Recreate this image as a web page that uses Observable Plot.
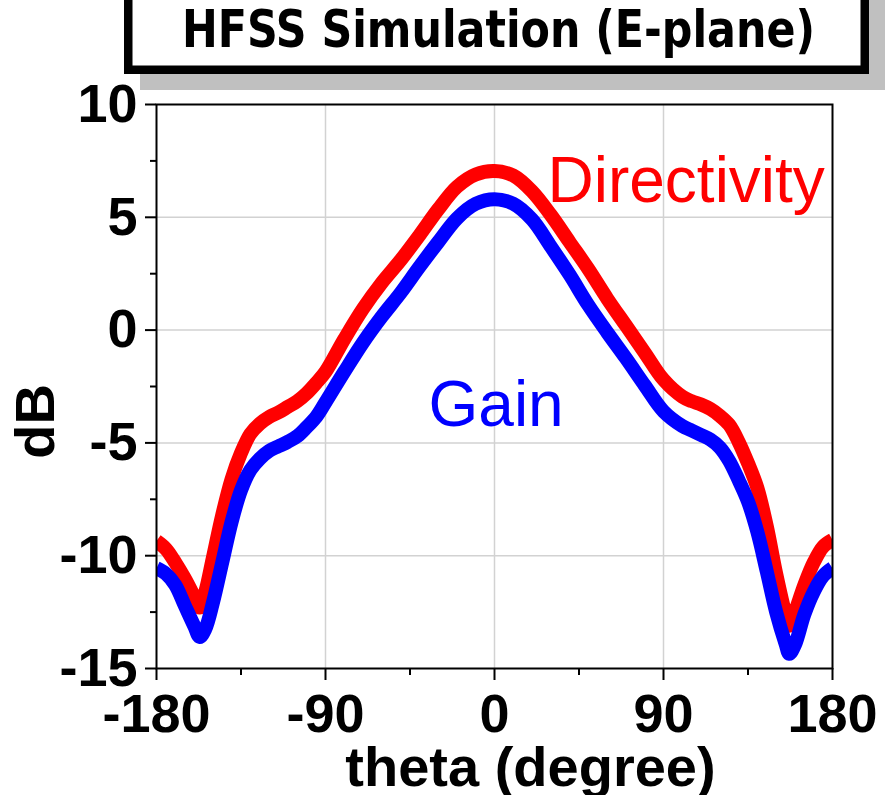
<!DOCTYPE html>
<html>
<head>
<meta charset="utf-8">
<script src="https://cdn.jsdelivr.net/npm/d3@7"></script>
<script src="https://cdn.jsdelivr.net/npm/@observablehq/plot@0.6"></script>
<style>
  html, body { margin: 0; padding: 0; background: #fff; }
  #wrap { position: relative; width: 895px; height: 795px; overflow: hidden; }
  #wrap > svg { position: absolute; left: 0; top: 0; }
</style>
</head>
<body>
<div id="wrap"></div>
<script>
// ---- data ----
const theta = [-180,-175,-170,-165,-160,-157,-154,-150,-145,-140,-135,-130,-125,-120,-115,-110,-105,-100,-95,-90,-80,-70,-60,-50,-40,-30,-20,-10,0,10,20,30,40,50,60,70,80,90,100,105,110,115,120,125,130,135,140,145,150,155,157,160,165,170,175,180];
const directivity = [-9.35,-9.7,-10.3,-11.0,-11.8,-12.3,-11.6,-10.1,-8.2,-6.6,-5.45,-4.6,-4.15,-3.85,-3.65,-3.4,-3.15,-2.8,-2.35,-1.85,-0.4,0.95,2.1,3.1,4.2,5.35,6.35,6.9,7.05,6.85,6.15,5.1,3.9,2.7,1.4,0.2,-1.0,-2.2,-2.95,-3.15,-3.3,-3.5,-3.8,-4.2,-4.95,-5.9,-7.0,-8.7,-10.8,-12.6,-13.1,-12.5,-11.3,-10.3,-9.6,-9.3];
const gain = [-10.55,-10.8,-11.3,-12.2,-13.1,-13.6,-13.25,-12.1,-10.3,-8.5,-7.1,-6.2,-5.7,-5.35,-5.15,-4.95,-4.7,-4.3,-3.85,-3.2,-1.85,-0.55,0.6,1.65,2.8,3.9,4.95,5.6,5.8,5.6,4.9,3.7,2.45,1.1,-0.1,-1.25,-2.45,-3.6,-4.25,-4.45,-4.65,-4.85,-5.2,-5.8,-6.65,-7.6,-8.95,-10.7,-12.5,-13.9,-14.35,-13.95,-12.6,-11.6,-10.9,-10.55];
const seriesNames = ["Directivity", "Gain"];
const seriesColors = ["#ff0000", "#0000ff"];
const xMajorTicks = [-180, -90, 0, 90, 180];
const xMinorTicks = [-135, -45, 45, 135];
const yMajorTicks = [-15, -10, -5, 0, 5, 10];
const yMinorTicks = [-12.5, -7.5, -2.5, 2.5, 7.5];
const xGrid = [-90, 0, 90];
const yGrid = [-10, -5, 0, 5];
const titleText = "HFSS Simulation (E-plane)";
const xLabel = "theta (degree)";
const yLabel = "dB";

const rows = [];
theta.forEach((t, i) => {
  rows.push({theta: t, value: directivity[i], series: seriesNames[0]});
  rows.push({theta: t, value: gain[i], series: seriesNames[1]});
});

const axisFont = "Liberation Sans, Arial, Helvetica, sans-serif";

const chart = Plot.plot({
  width: 895,
  height: 795,
  marginLeft: 156,
  marginRight: 63,
  marginTop: 104,
  marginBottom: 127,
  style: {background: "#fff", fontFamily: axisFont, overflow: "visible"},
  x: {domain: [-180, 180], label: null},
  y: {domain: [-15, 10], label: null},
  color: {domain: seriesNames, range: seriesColors},
  marks: [
    Plot.gridX(xGrid, {stroke: "#d2d2d2", strokeOpacity: 1, strokeWidth: 1.5}),
    Plot.gridY(yGrid, {stroke: "#d2d2d2", strokeOpacity: 1, strokeWidth: 1.5}),
    Plot.line(rows, {x: "theta", y: "value", z: "series", stroke: "series", strokeWidth: 14, curve: "catmull-rom", clip: true, strokeLinecap: "butt"}),
    Plot.frame({stroke: "#000", strokeWidth: 2}),
    Plot.axisX(xMajorTicks, {tickSize: 12, tickPadding: 13, strokeWidth: 2, stroke: "#000", fill: "#000", fontSize: 54, fontWeight: "bold", fontFamily: axisFont, tickFormat: d => String(d)}),
    Plot.axisX(xMinorTicks, {tickSize: 7, strokeWidth: 2, stroke: "#000", fill: "none"}),
    Plot.axisY(yMajorTicks, {tickSize: 11, tickPadding: 8, strokeWidth: 2, stroke: "#000", fill: "#000", fontSize: 54, fontWeight: "bold", fontFamily: axisFont, tickFormat: d => String(d)}),
    Plot.axisY(yMinorTicks, {tickSize: 6, strokeWidth: 2, stroke: "#000", fill: "none"}),
    Plot.text([xLabel], {frameAnchor: "bottom", text: d => d, dx: 36, dy: 100, lineAnchor: "middle", fontSize: 56, fontWeight: "bold", fontFamily: axisFont, fill: "#000"}),
    Plot.text([yLabel], {frameAnchor: "left", text: d => d, dx: -120, dy: 35, rotate: -90, lineAnchor: "middle", textAnchor: "middle", fontSize: 56, fontWeight: "bold", fontFamily: axisFont, fill: "#000"}),
    Plot.text([seriesNames[0]], {frameAnchor: "top-left", text: d => d, dx: 391, dy: 77, textAnchor: "start", lineAnchor: "middle", fontSize: 64, fontFamily: axisFont, fill: seriesColors[0]}),
    Plot.text([seriesNames[1]], {frameAnchor: "top-left", text: d => d, dx: 272, dy: 301, textAnchor: "start", lineAnchor: "middle", fontSize: 64, fontFamily: axisFont, fill: seriesColors[1]})
  ]
});

const wrap = document.getElementById("wrap");
wrap.appendChild(chart);

// title box with shadow, overlaid at the top
const ns = "http://www.w3.org/2000/svg";
const t = d3.create("svg")
  .attr("xmlns", ns)
  .attr("width", 895)
  .attr("height", 100)
  .attr("viewBox", "0 0 895 100");
t.append("rect").attr("x", 140).attr("y", -30).attr("width", 745).attr("height", 120).attr("fill", "#c0c0c0");
t.append("rect").attr("x", 128.25).attr("y", -30).attr("width", 736.5).attr("height", 99.75)
  .attr("fill", "#fff").attr("stroke", "#000").attr("stroke-width", 8.5);
t.append("text").attr("x", 498.5).attr("y", 47).attr("text-anchor", "middle")
  .attr("font-family", "'DejaVu Sans Condensed', 'DejaVu Sans', sans-serif")
  .attr("font-stretch", "condensed")
  .attr("textLength", 633).attr("lengthAdjust", "spacingAndGlyphs")
  .attr("font-weight", "bold").attr("font-size", 51).attr("fill", "#000")
  .text(titleText);
wrap.appendChild(t.node());
</script>
</body>
</html>
